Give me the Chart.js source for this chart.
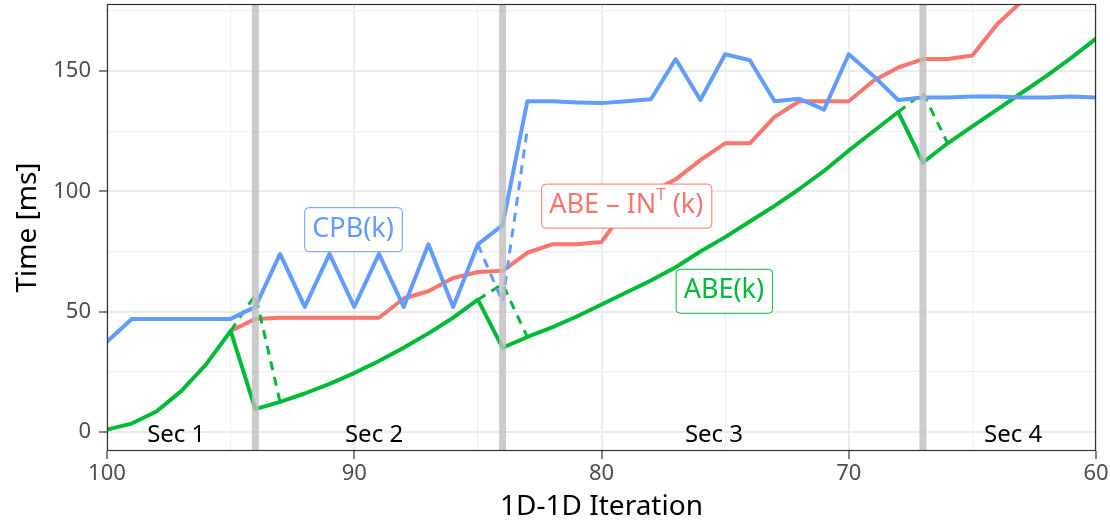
<!DOCTYPE html>
<html>
<head>
<meta charset="utf-8">
<script src="https://cdn.jsdelivr.net/npm/chart.js@4.4.0/dist/chart.umd.min.js"></script>
<style>
  html, body { margin: 0; padding: 0; background: #fff; }
  #caixa { width: 1110px; height: 528px; }
</style>
</head>
<body>
<div id="caixa"><canvas id="chartTempo" width="1110" height="528"></canvas></div>
<script>
// ==================== DADOS ====================
const iteracoes = [100, 99, 98, 97, 96, 95, 94, 93, 92, 91, 90, 89, 88, 87, 86, 85, 84, 83, 82, 81,
  80, 79, 78, 77, 76, 75, 74, 73, 72, 71, 70, 69, 68, 67, 66, 65, 64, 63, 62, 61, 60];

const cpb = [37.5, 47, 47, 47, 47, 47, 52, 74, 52, 74, 52, 74, 52, 78, 52, 78, 86, 137.5, 137.5, 137,
  136.7, 137.5, 138.3, 155, 138, 157, 154.5, 137.5, 138.5, 134, 157, 148, 138, 139, 139, 139.5, 139.5, 139, 139, 139.5, 139];

const abeInT = [null, null, null, null, null, 42, 47, 47.5, 47.5, 47.5, 47.5, 47.5, 55.5, 58.5, 64, 66.5, 67, 74.5, 78, 78,
  79, 93, 99.5, 105, 113, 120, 120, 131, 137.5, 137.5, 137.5, 146, 151.5, 155, 155, 156.5, 169.5, 179, 188, null, null];

const abe = [1, 3.5, 8.5, 17, 28, 42, 9.5, 12.5, 16, 20, 24.5, 29.5, 35, 41, 47.5, 55, 35, 39.5, 43.5, 48,
  53, 58, 63, 68.5, 75, 81, 87.5, 94, 101, 108.5, 117, 125, 133, 112, 120, 127, 134, 141, 148, 155.5, 163.5];

// trechos tracejados (extrapolacao na troca de secao)
const abeTracejado = [null, null, null, null, null, 42, 57, 12.5, null, null, null, null, null, null, null, 55, 61.5, 39.5, null, null,
  null, null, null, null, null, null, null, null, null, null, null, null, 133, 141, 120, null, null, null, null, null, null];

const cpbTracejado = [null, null, null, null, null, null, null, null, null, null, null, null, null, null, null, 78, 54, 126, null, null,
  null, null, null, null, null, null, null, null, null, null, null, null, null, null, null, null, null, null, null, null, null];

const quebrasSecao = [94, 84, 67];
const nomesSecao = ['Sec 1', 'Sec 2', 'Sec 3', 'Sec 4'];

const AZUL = '#619CFF';
const VERMELHO = '#F8766D';
const VERDE = '#00BA38';

const pares = (serie) => iteracoes.map((it, i) => ({ x: it, y: serie[i] }));

// ==================== ANOTACOES ====================
const rotulosSerie = [
  { partes: [['CPB(k)', 0]], x: 90.05, y: 84.3, cor: AZUL },
  { partes: [['ABE \u2013 IN', 0], ['T', 1], [' (k)', 0]], x: 79.0, y: 94.1, cor: VERMELHO },
  { partes: [['ABE(k)', 0]], x: 75.05, y: 58.7, cor: VERDE },
];
const posSecao = [97.2, 89.2, 75.45, 63.35];

function caixaArredondada(ctx, x, y, w, h, r) {
  ctx.beginPath();
  ctx.moveTo(x + r, y);
  ctx.lineTo(x + w - r, y);
  ctx.arcTo(x + w, y, x + w, y + r, r);
  ctx.lineTo(x + w, y + h - r);
  ctx.arcTo(x + w, y + h, x + w - r, y + h, r);
  ctx.lineTo(x + r, y + h);
  ctx.arcTo(x, y + h, x, y + h - r, r);
  ctx.lineTo(x, y + r);
  ctx.arcTo(x, y, x + r, y, r);
  ctx.closePath();
}

const pluginAnotacoes = {
  id: 'anotacoes',
  afterDatasetsDraw(chart) {
    const { ctx, chartArea, scales: { x, y } } = chart;
    ctx.save();
    ctx.beginPath();
    ctx.rect(chartArea.left, chartArea.top, chartArea.width, chartArea.height);
    ctx.clip();

    // faixas das quebras de secao
    ctx.fillStyle = 'rgba(190, 190, 190, 0.8)';
    quebrasSecao.forEach(q => {
      const px = x.getPixelForValue(q);
      ctx.fillRect(px - 3.5, chartArea.top, 7, chartArea.height);
    });

    // nomes das secoes
    ctx.fillStyle = '#000';
    ctx.font = '24px "Noto Sans"';
    ctx.textAlign = 'center';
    ctx.textBaseline = 'middle';
    nomesSecao.forEach((nome, i) => {
      ctx.fillText(nome, x.getPixelForValue(posSecao[i]), y.getPixelForValue(-1.4));
    });

    // rotulos das series
    const fonte = 27;
    rotulosSerie.forEach(r => {
      let largura = 0;
      r.partes.forEach(([t, sup]) => {
        ctx.font = (sup ? 17 : fonte) + 'px "Noto Sans"';
        largura += ctx.measureText(t).width;
      });
      const cx = x.getPixelForValue(r.x);
      const cy = y.getPixelForValue(r.y);
      const w = largura + 16, h = 44;
      caixaArredondada(ctx, cx - w / 2 + 0.5, cy - h / 2 + 0.5, w, h, 4);
      ctx.fillStyle = '#fff';
      ctx.fill();
      ctx.strokeStyle = r.cor;
      ctx.lineWidth = 1;
      ctx.stroke();
      ctx.fillStyle = r.cor;
      ctx.textAlign = 'left';
      ctx.textBaseline = 'middle';
      let px = cx - largura / 2;
      r.partes.forEach(([t, sup]) => {
        ctx.font = (sup ? 17 : fonte) + 'px "Noto Sans"';
        ctx.fillText(t, px, sup ? cy - 10 : cy);
        px += ctx.measureText(t).width;
      });
    });
    ctx.restore();
  },
  afterDraw(chart) {
    const { ctx, chartArea } = chart;
    ctx.save();
    ctx.strokeStyle = '#333';
    ctx.lineWidth = 1.2;
    ctx.strokeRect(chartArea.left + 0.5, chartArea.top + 0.5, chartArea.width - 1, chartArea.height - 1);
    ctx.restore();
  }
};

// ==================== GRAFICO ====================
const ehMaior = (v, passo) => Math.abs(v % passo) < 1e-6;

const cxTempo = document.getElementById('chartTempo');
const chtTempo = new Chart(cxTempo, {
  type: 'line',
  data: {
    datasets: [
      { label: 'ABE-IN^T(k)', data: pares(abeInT), borderColor: VERMELHO, borderWidth: 4, order: 3 },
      { label: 'ABE(k)', data: pares(abe), borderColor: VERDE, borderWidth: 4, order: 2 },
      { label: 'ABE tracejado', data: pares(abeTracejado), borderColor: VERDE, borderWidth: 3, borderDash: [9, 7], order: 2 },
      { label: 'CPB(k)', data: pares(cpb), borderColor: AZUL, borderWidth: 4, order: 1 },
      { label: 'CPB tracejado', data: pares(cpbTracejado), borderColor: AZUL, borderWidth: 3, borderDash: [9, 7], order: 1 },
    ]
  },
  options: {
    responsive: false,
    animation: false,
    spanGaps: false,
    datasets: {
      line: { pointRadius: 0, tension: 0, borderJoinStyle: 'round', clip: 0, fill: false }
    },
    layout: { padding: { top: 4, right: 14, left: 0, bottom: 0 } },
    scales: {
      x: {
        type: 'linear',
        reverse: true,
        min: 60,
        max: 100,
        afterFit: (s) => { s.height = 77; s.paddingLeft = 0; s.paddingRight = 0; },
        ticks: {
          stepSize: 5,
          autoSkip: false,
          maxRotation: 0,
          includeBounds: false,
          color: '#4d4d4d',
          font: { family: 'Noto Sans', size: 22 },
          padding: 2,
          callback: (v) => ehMaior(v, 10) ? v : ''
        },
        grid: {
          color: (c) => c.tick && ehMaior(c.tick.value, 10) ? '#ebebeb' : '#f0f0f0',
          lineWidth: (c) => c.tick && ehMaior(c.tick.value, 10) ? 2 : 1.2,
          tickColor: (c) => c.tick && ehMaior(c.tick.value, 10) ? '#333' : 'rgba(0,0,0,0)',
          tickWidth: 1.2,
          tickLength: 8,
        },
        border: { display: false },
        title: { display: true, text: '1D-1D Iteration', color: '#000', font: { family: 'Noto Sans', size: 28 }, padding: { top: 0, bottom: 4 } }
      },
      y: {
        type: 'linear',
        min: -7.9,
        max: 177.9,
        afterFit: (s) => { s.width = 107; s.paddingTop = 0; s.paddingBottom = 0; },
        ticks: {
          stepSize: 25,
          autoSkip: false,
          includeBounds: false,
          color: '#4d4d4d',
          font: { family: 'Noto Sans', size: 22 },
          padding: 8,
          callback: (v) => ehMaior(v, 50) ? v : ''
        },
        grid: {
          color: (c) => c.tick && ehMaior(c.tick.value, 50) ? '#ebebeb' : '#f0f0f0',
          lineWidth: (c) => c.tick && ehMaior(c.tick.value, 50) ? 2 : 1.2,
          tickColor: (c) => c.tick && ehMaior(c.tick.value, 50) ? '#333' : 'rgba(0,0,0,0)',
          tickWidth: 1.2,
          tickLength: 8,
        },
        border: { display: false },
        title: { display: true, text: 'Time [ms]', color: '#000', font: { family: 'Noto Sans', size: 28 }, padding: { top: 11, bottom: 0 } }
      }
    },
    plugins: {
      legend: { display: false },
      tooltip: { enabled: false },
      title: { display: false }
    }
  },
  plugins: [pluginAnotacoes]
});
</script>
</body>
</html>
